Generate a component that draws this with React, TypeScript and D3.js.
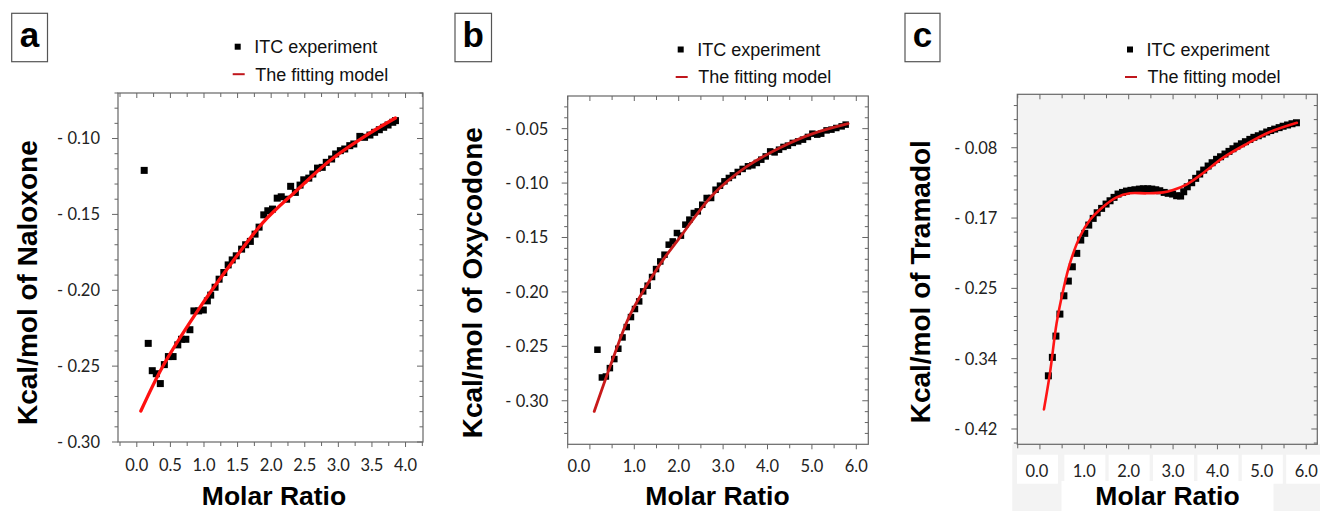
import React from "react";
import * as d3 from "d3";

// ---------- Panel a : Naloxone ----------
const naloxoneRatio = [0.11,0.17,0.23,0.29,0.35,0.41,0.47,0.54,0.61,0.665,0.73,0.79,0.85,0.92,0.99,1.05,1.10,1.165,1.225,1.295,1.36,1.42,1.48,1.56,1.62,1.69,1.76,1.82,1.89,1.95,2.02,2.09,2.15,2.23,2.29,2.36,2.43,2.485,2.56,2.62,2.69,2.76,2.82,2.90,2.96,3.03,3.095,3.17,3.23,3.32,3.39,3.47,3.54,3.61,3.675,3.74,3.81,3.85];
const naloxoneHeat = [-0.121,-0.235,-0.253,-0.255,-0.2615,-0.249,-0.2437,-0.2437,-0.236,-0.2323,-0.2323,-0.226,-0.2136,-0.2136,-0.213,-0.207,-0.2032,-0.198,-0.1927,-0.1883,-0.1833,-0.18,-0.1773,-0.1729,-0.170,-0.1678,-0.163,-0.1584,-0.1503,-0.1476,-0.1465,-0.1393,-0.1384,-0.140,-0.1315,-0.1355,-0.1307,-0.1272,-0.1261,-0.1234,-0.1195,-0.119,-0.1157,-0.1135,-0.1102,-0.108,-0.1069,-0.1047,-0.1036,-0.0986,-0.0992,-0.0977,-0.0959,-0.0942,-0.0926,-0.0911,-0.0893,-0.0882];
const naloxoneFitRatio = [0.06,0.39,0.89,1.38,1.88,2.38,2.87,3.37,3.85];
const naloxoneFitHeat = [-0.2796,-0.2499,-0.2146,-0.1839,-0.1553,-0.1342,-0.1146,-0.0992,-0.0865];
const xTicksA = [0, 0.5, 1, 1.5, 2, 2.5, 3, 3.5, 4];
const xLabelsA = ["0.0", "0.5", "1.0", "1.5", "2.0", "2.5", "3.0", "3.5", "4.0"];
const yTicksA = [-0.3, -0.25, -0.2, -0.15, -0.1];
const yLabelsA = ["- 0.30", "- 0.25", "- 0.20", "- 0.15", "- 0.10"];

// ---------- Panel b : Oxycodone ----------
const oxycodoneRatio = [0.17,0.27,0.36,0.45,0.55,0.64,0.735,0.83,0.925,1.015,1.11,1.20,1.30,1.40,1.49,1.585,1.68,1.775,1.865,1.96,2.05,2.15,2.24,2.34,2.43,2.53,2.63,2.73,2.83,2.93,3.03,3.13,3.22,3.33,3.44,3.56,3.66,3.76,3.86,3.96,4.06,4.16,4.26,4.36,4.46,4.57,4.69,4.80,4.91,5.01,5.12,5.21,5.33,5.44,5.55,5.67,5.76];
const oxycodoneHeat = [-0.2531,-0.2786,-0.2777,-0.270,-0.2617,-0.2522,-0.2418,-0.2323,-0.2231,-0.2157,-0.2087,-0.1995,-0.1943,-0.1863,-0.179,-0.172,-0.1658,-0.1566,-0.1536,-0.1459,-0.1483,-0.1382,-0.1336,-0.1275,-0.126,-0.1199,-0.1137,-0.1137,-0.1061,-0.1024,-0.0984,-0.0953,-0.0929,-0.0898,-0.087,-0.0846,-0.0837,-0.0815,-0.0785,-0.0755,-0.0709,-0.0718,-0.0693,-0.0668,-0.0656,-0.0631,-0.0617,-0.0601,-0.0576,-0.0546,-0.0555,-0.0546,-0.0516,-0.0509,-0.0494,-0.0479,-0.0463];
const oxycodoneFitRatio = [0.097,0.51,0.887,1.264,1.64,2.016,2.77,3.52,4.27,5.02,5.815];
const oxycodoneFitHeat = [-0.3098,-0.2623,-0.2225,-0.1950,-0.1710,-0.1505,-0.1107,-0.0852,-0.0678,-0.0546,-0.0454];
const xTicksB = [0, 1, 2, 3, 4, 5, 6];
const xLabelsB = ["0.0", "1.0", "2.0", "3.0", "4.0", "5.0", "6.0"];
const yTicksB = [-0.3, -0.25, -0.2, -0.15, -0.1, -0.05];
const yLabelsB = ["- 0.30", "- 0.25", "- 0.20", "- 0.15", "- 0.10", "- 0.05"];

// ---------- Panel c : Tramadol ----------
const tramadolRatio = [0.19,0.28,0.36,0.45,0.54,0.64,0.73,0.83,0.92,1.01,1.10,1.20,1.29,1.39,1.49,1.58,1.67,1.76,1.86,1.95,2.05,2.14,2.24,2.33,2.43,2.52,2.61,2.70,2.80,2.89,2.99,3.08,3.17,3.24,3.32,3.42,3.51,3.60,3.69,3.79,3.88,3.98,4.07,4.17,4.26,4.35,4.44,4.54,4.63,4.73,4.82,4.92,5.01,5.11,5.20,5.29,5.39,5.48,5.58,5.68,5.78];
const tramadolHeat = [-0.3607,-0.3384,-0.3127,-0.2861,-0.264,-0.2462,-0.2289,-0.2127,-0.1966,-0.1885,-0.1785,-0.1704,-0.1636,-0.1583,-0.1531,-0.1491,-0.145,-0.141,-0.139,-0.1374,-0.1365,-0.1358,-0.135,-0.1346,-0.1346,-0.135,-0.1358,-0.137,-0.139,-0.1401,-0.141,-0.143,-0.1434,-0.1382,-0.1322,-0.1273,-0.122,-0.1168,-0.112,-0.1071,-0.1031,-0.099,-0.0959,-0.0926,-0.0894,-0.0862,-0.083,-0.0802,-0.0777,-0.0749,-0.0724,-0.0705,-0.0684,-0.066,-0.0642,-0.0625,-0.0607,-0.059,-0.0575,-0.056,-0.0548];
const tramadolFitRatio = [0.09,0.225,0.375,0.525,0.676,0.9,1.126,1.426,1.727,2.027,2.4,2.78,3.0,3.30,3.68,4.13,4.655,5.18,5.79];
const tramadolFitHeat = [-0.4013,-0.3578,-0.2973,-0.257,-0.2248,-0.1926,-0.1724,-0.1563,-0.145,-0.1401,-0.1401,-0.139,-0.1361,-0.1295,-0.1155,-0.0970,-0.0805,-0.0660,-0.0548];
const xTicksC = [0, 1, 2, 3, 4, 5, 6];
const xLabelsC = ["0.0", "1.0", "2.0", "3.0", "4.0", "5.0", "6.0"];
const yTicksC = [-0.425, -0.34, -0.255, -0.17, -0.085];
const yLabelsC = ["- 0.42", "- 0.34", "- 0.25", "- 0.17", "- 0.08"];

const legendLabels = ["ITC experiment", "The fitting model"];
const xTitle = "Molar Ratio";

const TICK_FONT = "Lato, 'Open Sans', sans-serif";
const SANS = "'Liberation Sans', Arial, sans-serif";

type PanelProps = {
  letter: string;
  letterBox: [number, number, number, number];
  xDomain: [number, number];
  xRange: [number, number];
  yDomain: [number, number];
  yRange: [number, number];
  ratio: number[];
  heat: number[];
  fitRatio: number[];
  fitHeat: number[];
  xTicks: number[];
  xLabels: string[];
  yTicks: number[];
  yLabels: string[];
  xMinor: number[];
  yMinor: number[];
  yMajorSet: number[];
  xMajorSet: number[];
  yTitle: string;
  yTitlePos: [number, number];
  xTitlePos: [number, number];
  xLabelBaseline: number;
  yLabelRight: number;
  legendPos: [number, number];
  fitColor: string;
  fitWidth: number;
  markSize: number;
  firstLabelShift: number;
  gray?: boolean;
};

function Panel(p: PanelProps) {
  const x = d3.scaleLinear().domain(p.xDomain).range(p.xRange);
  const y = d3.scaleLinear().domain(p.yDomain).range(p.yRange);
  const [x0, x1] = p.xRange;
  const [y0, y1] = p.yRange; // y0 bottom, y1 top
  const pts = p.ratio.map((r, i) => [r, p.heat[i]] as [number, number]);
  const fit = p.fitRatio.map((r, i) => [r, p.fitHeat[i]] as [number, number]);
  const line = d3
    .line<[number, number]>()
    .x((d) => x(d[0]))
    .y((d) => y(d[1]))
    .curve(d3.curveCatmullRom.alpha(0.5));
  const isMajX = (v: number) => p.xMajorSet.some((m) => Math.abs(m - v) < 1e-6);
  const isMajY = (v: number) => p.yMajorSet.some((m) => Math.abs(m - v) < 1e-6);
  const ax = "#666";
  const [lx, ly] = p.legendPos;
  const [bx, by, bw, bh] = p.letterBox;
  return (
    <g>
      {p.gray && (
        <g>
          <rect x={x0} y={y1} width={x1 - x0} height={y0 - y1} fill="#f3f3f3" />
          <rect x={x0 - 5} y={y0} width={1320 - x0 + 5} height={511 - y0} fill="#f3f3f3" />
          {p.xTicks.map((t, i) => (
            <rect
              key={"wb" + i}
              x={x(t) + (i === 0 ? p.firstLabelShift : 0) - 20}
              y={p.xLabelBaseline - 22}
              width={41}
              height={29}
              fill="#ffffff"
            />
          ))}
          <rect x={p.xTitlePos[0] - 106} y={p.xTitlePos[1] - 24} width={212} height={32} fill="#ffffff" />
        </g>
      )}
      {/* plot frame */}
      <rect x={x0} y={y1} width={x1 - x0} height={y0 - y1} fill="none" stroke={ax} strokeWidth={1.2} />
      {/* x ticks */}
      {p.xMinor.map((t, i) => {
        const len = isMajX(t) ? 5 : 4;
        return (
          <g key={"xt" + i} stroke={ax} strokeWidth={1}>
            <line x1={x(t)} x2={x(t)} y1={y0} y2={y0 + len} />
            <line x1={x(t)} x2={x(t)} y1={y1} y2={y1 + len} />
          </g>
        );
      })}
      {/* y ticks */}
      {p.yMinor.map((t, i) => {
        const len = isMajY(t) ? 6 : 3.5;
        return (
          <g key={"yt" + i} stroke={ax} strokeWidth={1}>
            <line x1={x0 - len} x2={x0} y1={y(t)} y2={y(t)} />
            <line x1={x1 - len} x2={x1} y1={y(t)} y2={y(t)} />
          </g>
        );
      })}
      {/* tick labels */}
      {p.xTicks.map((t, i) => (
        <text
          key={"xl" + i}
          x={x(t) + (i === 0 ? p.firstLabelShift : 0)}
          y={p.xLabelBaseline}
          textAnchor="middle"
          fontFamily={TICK_FONT}
          fontSize={16.5}
          fill="#222"
        >
          {p.xLabels[i]}
        </text>
      ))}
      {p.yTicks.map((t, i) => (
        <text
          key={"yl" + i}
          x={p.yLabelRight}
          y={y(t)}
          dy="0.36em"
          textAnchor="end"
          fontFamily={TICK_FONT}
          fontSize={16.5}
          fill="#222"
        >
          {p.yLabels[i]}
        </text>
      ))}
      {/* data points */}
      {pts.map((d, i) => (
        <rect
          key={"pt" + i}
          x={x(d[0]) - p.markSize / 2}
          y={y(d[1]) - p.markSize / 2}
          width={p.markSize}
          height={p.markSize}
          fill="#000"
        />
      ))}
      {/* fit */}
      <path d={line(fit) || ""} fill="none" stroke={p.fitColor} strokeWidth={p.fitWidth} strokeLinecap="round" />
      {/* legend */}
      <rect x={lx - 3} y={ly - 3} width={6} height={6} fill="#000" />
      <text x={lx + 16.5} y={ly} dy="0.36em" fontFamily={SANS} fontSize={18} fill="#111">
        {legendLabels[0]}
      </text>
      <line x1={lx - 5} x2={lx + 7} y1={ly + 27.5} y2={ly + 27.5} stroke="#c0161c" strokeWidth={2} />
      <text x={lx + 17.5} y={ly + 27.5} dy="0.36em" fontFamily={SANS} fontSize={18} fill="#111">
        {legendLabels[1]}
      </text>
      {/* letter box */}
      <rect x={bx} y={by} width={bw} height={bh} fill="#fff" stroke="#555" strokeWidth={1.2} />
      <text
        x={bx + bw / 2}
        y={by + 33.5}
        textAnchor="middle"
        fontFamily={SANS}
        fontWeight="bold"
        fontSize={35}
        fill="#000"
      >
        {p.letter}
      </text>
      {/* axis titles */}
      <text
        transform={`translate(${p.yTitlePos[0]},${p.yTitlePos[1]}) rotate(-90)`}
        textAnchor="start"
        fontFamily={SANS}
        fontWeight="bold"
        fontSize={28}
        fill="#000"
      >
        {p.yTitle}
      </text>
      <text
        x={p.xTitlePos[0]}
        y={p.xTitlePos[1]}
        textAnchor="middle"
        fontFamily={SANS}
        fontWeight="bold"
        fontSize={26.5}
        fill="#000"
      >
        {xTitle}
      </text>
    </g>
  );
}

export default function App() {
  const xMinorA = d3.range(-1, 18).map((i) => i * 0.25);
  const yMinorA = d3.range(-30, -6).map((i) => i / 100);
  const xMinorBC = d3.range(-1, 13).map((i) => i * 0.5);
  const yMinorB = d3.range(-33, -2).map((i) => i / 100);
  const yMinorC = d3.range(-26, -1).map((i) => i * 0.017);
  return (
    <svg width={1320} height={511} style={{ display: "block", position: "absolute", left: 0, top: 0 }}>
      <rect width={1320} height={511} fill="#fff" />
      <Panel
        letter="a"
        letterBox={[11.7, 13.3, 35.8, 48.4]}
        xDomain={[-0.28, 4.26]}
        xRange={[118, 423]}
        yDomain={[-0.3, -0.07]}
        yRange={[442, 93]}
        ratio={naloxoneRatio}
        heat={naloxoneHeat}
        fitRatio={naloxoneFitRatio}
        fitHeat={naloxoneFitHeat}
        xTicks={xTicksA}
        xLabels={xLabelsA}
        yTicks={yTicksA}
        yLabels={yLabelsA}
        xMinor={xMinorA}
        yMinor={yMinorA}
        xMajorSet={xTicksA}
        yMajorSet={yTicksA}
        yTitle="Kcal/mol of Naloxone"
        yTitlePos={[36.5, 425]}
        xTitlePos={[274, 504.5]}
        xLabelBaseline={470.7}
        yLabelRight={100}
        legendPos={[237.7, 46.7]}
        fitColor="#ff1010"
        fitWidth={3.3}
        markSize={7}
        firstLabelShift={0}
      />
      <Panel
        letter="b"
        letterBox={[455, 13.3, 36.5, 48.4]}
        xDomain={[-0.5, 6.27]}
        xRange={[567.7, 868.3]}
        yDomain={[-0.34, -0.02]}
        yRange={[444.3, 96]}
        ratio={oxycodoneRatio}
        heat={oxycodoneHeat}
        fitRatio={oxycodoneFitRatio}
        fitHeat={oxycodoneFitHeat}
        xTicks={xTicksB}
        xLabels={xLabelsB}
        yTicks={yTicksB}
        yLabels={yLabelsB}
        xMinor={xMinorBC}
        yMinor={yMinorB}
        xMajorSet={xTicksB}
        yMajorSet={yTicksB}
        yTitle="Kcal/mol of Oxycodone"
        yTitlePos={[481.5, 438.3]}
        xTitlePos={[717.5, 505]}
        xLabelBaseline={471.7}
        yLabelRight={548.3}
        legendPos={[680.7, 49.5]}
        fitColor="#c81a1a"
        fitWidth={2.8}
        markSize={6.5}
        firstLabelShift={-11}
      />
      <Panel
        letter="c"
        letterBox={[905, 13.3, 35, 48.4]}
        xDomain={[-0.51, 6.25]}
        xRange={[1017.3, 1317.3]}
        yDomain={[-0.4435, -0.0204]}
        yRange={[444.3, 94.3]}
        ratio={tramadolRatio}
        heat={tramadolHeat}
        fitRatio={tramadolFitRatio}
        fitHeat={tramadolFitHeat}
        xTicks={xTicksC}
        xLabels={xLabelsC}
        yTicks={yTicksC}
        yLabels={yLabelsC}
        xMinor={xMinorBC}
        yMinor={yMinorC}
        xMajorSet={xTicksC}
        yMajorSet={yTicksC}
        yTitle="Kcal/mol of Tramadol"
        yTitlePos={[930, 423.3]}
        xTitlePos={[1167.5, 505]}
        xLabelBaseline={476.7}
        yLabelRight={997.3}
        legendPos={[1130, 49.5]}
        fitColor="#ff1414"
        fitWidth={2.6}
        markSize={7}
        firstLabelShift={-3}
        gray
      />
    </svg>
  );
}
